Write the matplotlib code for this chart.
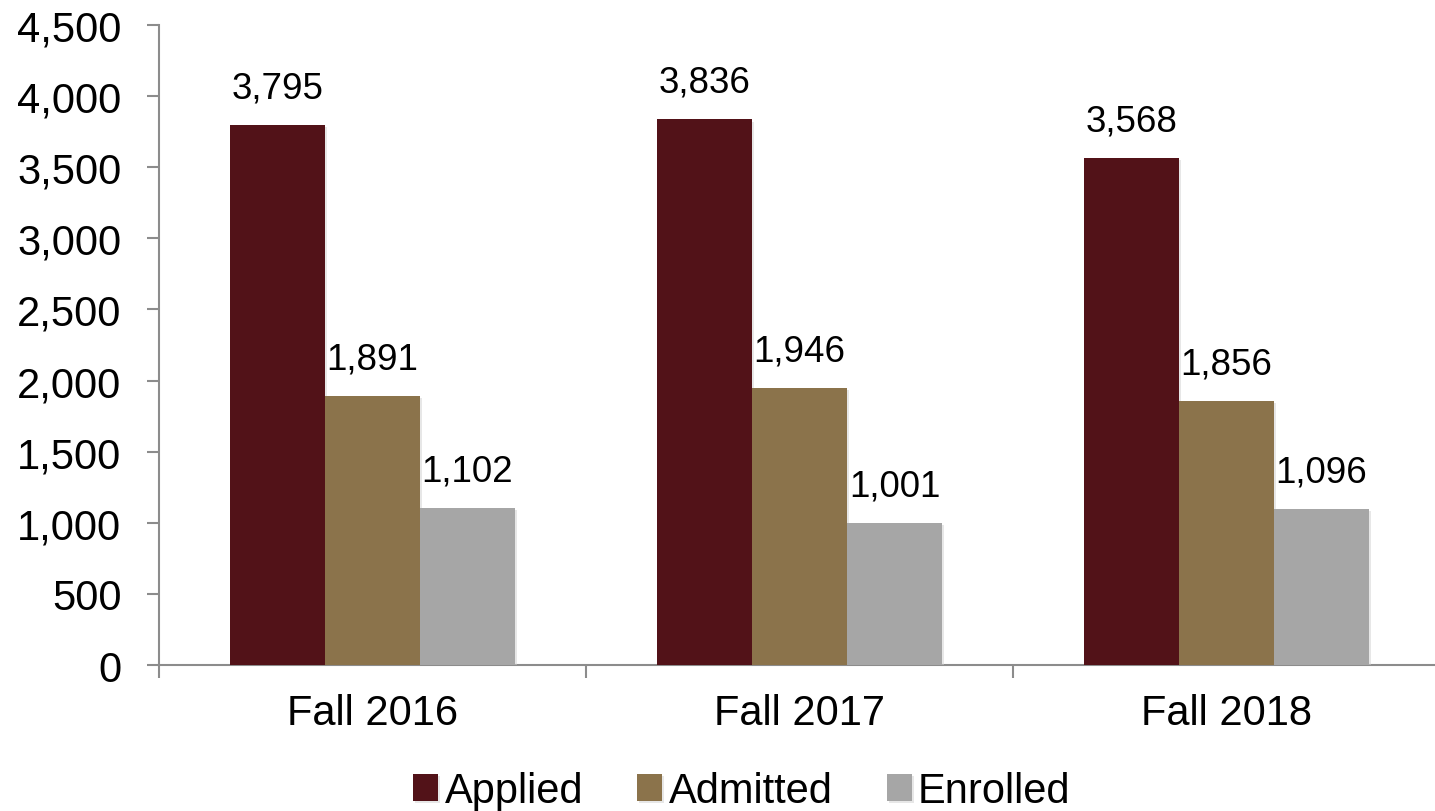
import matplotlib.pyplot as plt
import matplotlib.patheffects as pe
import numpy as np

# dados
terms = ['Fall 2016', 'Fall 2017', 'Fall 2018']
applied = [3795, 3836, 3568]
admitted = [1891, 1946, 1856]
enrolled = [1102, 1001, 1096]

series = [('Applied', applied, '#521218'),
          ('Admitted', admitted, '#8B734B'),
          ('Enrolled', enrolled, '#A6A6A6')]

plt.rcParams['font.family'] = ['Liberation Sans', 'DejaVu Sans']

fig = plt.figure(figsize=(14.35, 8.12), dpi=100)
ax = fig.add_axes([0.1108, 0.1798, 0.8927, 0.7882])

x = np.arange(len(terms))
w = 0.2225
shadow = [pe.SimplePatchShadow(offset=(1.5, -1.5), shadow_rgbFace='#d0d0d0', alpha=0.5), pe.Normal()]

for i, (name, vals, cor) in enumerate(series):
    pos = x + (i - 1) * w
    bars = ax.bar(pos, vals, w, color=cor, label=name, zorder=3)
    for b in bars:
        b.set_path_effects(shadow)
    for p, v in zip(pos, vals):
        ax.annotate(f'{v:,}', (p, v), xytext=(0, 14), textcoords='offset points',
                    ha='center', va='bottom', fontsize=26.5)

ax.set_xlim(-0.5, 2.5)
ax.set_ylim(0, 4500)
ax.set_yticks(np.arange(0, 4501, 500))
ax.set_yticklabels([f'{t:,}' for t in range(0, 4501, 500)], fontsize=30)

ax.set_xticks([-0.5, 0.5, 1.5, 2.5])
ax.set_xticklabels([])
ax.set_xticks(x, minor=True)
ax.set_xticklabels(terms, minor=True, fontsize=30)
ax.tick_params(axis='x', which='minor', length=0, pad=20)
ax.tick_params(axis='x', which='major', length=9, color='#8c8c8c', width=1.5)
ax.tick_params(axis='y', length=9, color='#8c8c8c', width=1.5, pad=18)

for s in ['top', 'right']:
    ax.spines[s].set_visible(False)
for s in ['left', 'bottom']:
    ax.spines[s].set_color('#8c8c8c')
    ax.spines[s].set_linewidth(1.5)

ax.legend(loc='upper center', bbox_to_anchor=(0.455, -0.14), ncol=3, frameon=False,
          fontsize=30, handlelength=0.6, handleheight=0.6, handletextpad=0.15,
          columnspacing=1.3, borderaxespad=0)

fig.savefig('out.png', dpi=100)
